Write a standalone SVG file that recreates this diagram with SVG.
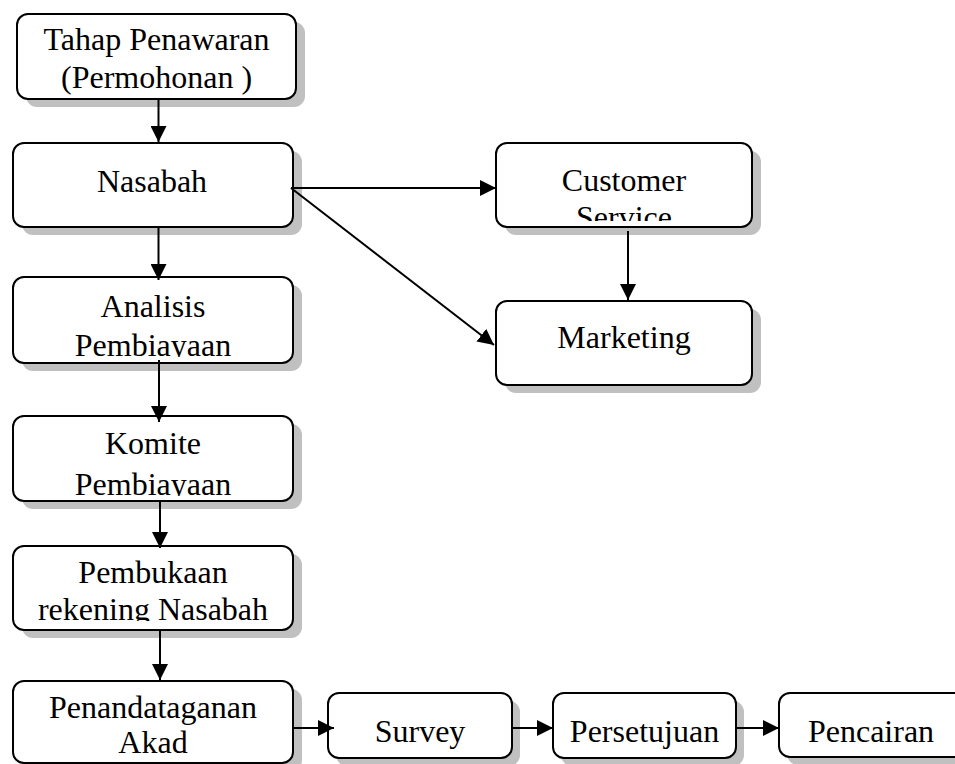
<svg xmlns="http://www.w3.org/2000/svg" width="955" height="764" viewBox="0 0 955 764">
<style>
.box{fill:#ffffff;stroke:#000000;stroke-width:2}
.sh{fill:#c0c0c0}
.t{font-family:"Liberation Serif","Times New Roman",serif;font-size:32px;fill:#000000;text-anchor:middle}
.ln{stroke:#000000;stroke-width:2;fill:none;marker-end:url(#ah)}
</style>
<defs>
<marker id="ah" markerUnits="userSpaceOnUse" markerWidth="16" markerHeight="16" refX="16" refY="8" orient="auto">
<path d="M0,0 L16,8 L0,16 Z" fill="#000000"/>
</marker>
<clipPath id="cA"><rect x="13" y="277" width="280" height="80"/></clipPath>
<clipPath id="cK"><rect x="13" y="416" width="280" height="80"/></clipPath>
<clipPath id="cP"><rect x="13" y="546" width="280" height="75"/></clipPath>
<clipPath id="cC"><rect x="496" y="143" width="256" height="78"/></clipPath>
</defs>
<rect width="955" height="764" fill="#ffffff"/>
<g id="n-tahap">
<rect class="sh" x="26" y="22" width="279" height="85" rx="11"/>
<rect class="box" x="17" y="14" width="279" height="85" rx="11"/>
<text class="t" x="156.5" y="50">Tahap Penawaran</text>
<text class="t" x="156.5" y="87.5">(Permohonan )</text>
</g>
<g id="n-nasabah">
<rect class="sh" x="22" y="151" width="280" height="84" rx="11"/>
<rect class="box" x="13" y="143" width="280" height="84" rx="11"/>
<text class="t" x="152" y="192">Nasabah</text>
</g>
<g id="n-analisis">
<rect class="sh" x="22" y="285" width="280" height="86" rx="11"/>
<rect class="box" x="13" y="277" width="280" height="86" rx="11"/>
<text class="t" x="153" y="317">Analisis</text>
<text class="t" x="153" y="356" clip-path="url(#cA)">Pembiayaan</text>
</g>
<g id="n-komite">
<rect class="sh" x="22" y="424" width="280" height="85" rx="11"/>
<rect class="box" x="13" y="416" width="280" height="85" rx="11"/>
<text class="t" x="153" y="454">Komite</text>
<text class="t" x="153" y="495" clip-path="url(#cK)">Pembiayaan</text>
</g>
<g id="n-pembukaan">
<rect class="sh" x="22" y="554" width="280" height="84" rx="11"/>
<rect class="box" x="13" y="546" width="280" height="84" rx="11"/>
<text class="t" x="153" y="583">Pembukaan</text>
<text class="t" x="153" y="620" clip-path="url(#cP)">rekening Nasabah</text>
</g>
<g id="n-penandatanganan">
<rect class="sh" x="22" y="689" width="280" height="82" rx="11"/>
<rect class="box" x="13" y="681" width="280" height="82" rx="11"/>
<text class="t" x="153" y="718">Penandataganan</text>
<text class="t" x="153" y="753">Akad</text>
</g>
<g id="n-cs">
<rect class="sh" x="505" y="151" width="256" height="84" rx="11"/>
<rect class="box" x="496" y="143" width="256" height="84" rx="11"/>
<text class="t" x="624" y="191">Customer</text>
<text class="t" x="624" y="228" clip-path="url(#cC)">Service</text>
</g>
<g id="n-marketing">
<rect class="sh" x="505" y="309" width="256" height="84" rx="11"/>
<rect class="box" x="496" y="301" width="256" height="84" rx="11"/>
<text class="t" x="624" y="348">Marketing</text>
</g>
<g id="n-survey">
<rect class="sh" x="336" y="701" width="184" height="65" rx="11"/>
<rect class="box" x="328" y="693" width="184" height="65" rx="11"/>
<text class="t" x="420" y="742">Survey</text>
</g>
<g id="n-persetujuan">
<rect class="sh" x="561" y="701" width="183" height="65" rx="11"/>
<rect class="box" x="553" y="693" width="183" height="65" rx="11"/>
<text class="t" x="644.5" y="742">Persetujuan</text>
</g>
<g id="n-pencairan">
<rect class="sh" x="787" y="701" width="200" height="64" rx="11"/>
<rect class="box" x="779" y="693" width="200" height="64" rx="11"/>
<text class="t" x="871" y="742">Pencairan</text>
</g>
<g id="connectors">
<line class="ln" x1="158.5" y1="99" x2="158.5" y2="142"/>
<line class="ln" x1="158.5" y1="227" x2="158.5" y2="280"/>
<line class="ln" x1="159" y1="360" x2="159" y2="422"/>
<line class="ln" x1="160" y1="501" x2="160" y2="548"/>
<line class="ln" x1="160" y1="630" x2="160" y2="680"/>
<line class="ln" x1="291" y1="188" x2="496" y2="188"/>
<line class="ln" x1="291" y1="188" x2="494" y2="345"/>
<line class="ln" x1="628" y1="231" x2="628" y2="300"/>
<line class="ln" x1="293" y1="728" x2="334" y2="728"/>
<line class="ln" x1="512" y1="728" x2="553" y2="728"/>
<line class="ln" x1="736" y1="728" x2="779" y2="728"/>
</g>
</svg>
